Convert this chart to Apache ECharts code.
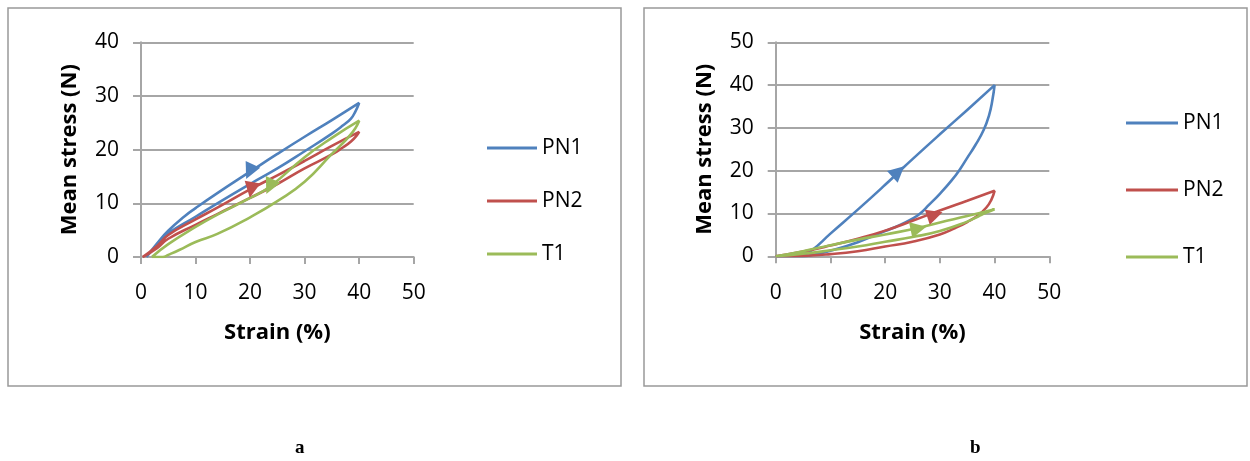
<!DOCTYPE html>
<html><head><meta charset="utf-8">
<script src="https://cdn.jsdelivr.net/npm/echarts@6/dist/echarts.min.js"></script>
<style>html,body{margin:0;padding:0;background:#fff}#c{width:1250px;height:461px}</style>
</head><body><div id="c"></div>
<script>
const seriesNames = ['PN1', 'PN2', 'T1'];
const colors = ['#4F81BD', '#C0504D', '#9BBB59'];
const xAxisName = 'Strain (%)';
const yAxisName = 'Mean stress (N)';
const panelLabels = ['a', 'b'];

// Panel a: loops [strain %, stress N]
const aPN1 = [[1,0],[3,2.6],[5,4.9],[8,7.6],[10,9.1],[14,11.9],[20,15.9],[25,19.2],[30,22.4],[35,25.5],[40,28.7],
  [39.3,27.1],[38.5,25.8],[37,24.5],[35,23],[30,19.7],[25,16.5],[20,13.6],[14,10],[10,7.5],[5,4.4],[3,2.4],[1,0]];
const aPN2 = [[0.3,0],[3,2.1],[5,4.1],[10,7.0],[14,9.2],[20,12.6],[25,15.2],[30,17.9],[35,20.7],[40,23.3],
  [39.6,22.7],[38.5,21.5],[37,20.4],[35,19.1],[30,16.5],[25,13.6],[20,11.0],[14,8.0],[10,6.0],[5,3.4],[3,1.7],[0.3,0]];
const aT1 = [[2,0],[5,2.4],[10,5.6],[14,7.9],[20,11.0],[23.6,13.1],[30,18.6],[35,22.2],[40,25.4],
  [39.3,24],[38,22.3],[36.5,20.7],[35,19.2],[30,14.0],[25,10.4],[20,7.4],[14,4.3],[10,2.8],[7,1.3],[5,0.4],[4,0],[2,0]];

// Panel b
const bPN1 = [[0,0],[3,0.2],[5,0.5],[6.5,1.3],[10,5.3],[15,10.9],[20,16.7],[22.4,19.6],[25,22.7],[30,28.5],[35,34.2],[40,40],
  [39.6,36.5],[39,33],[38,29.5],[36.5,26],[35,23],[33.5,20],[32,17.5],[30,14.6],[28,12],[26.4,10],[25,8.8],[22,6.9],[20,5.9],[15,3.3],[10,1.3],[7,0.4],[5,0.05],[0,0]];
const bPN2 = [[0,0],[5,1.1],[10,2.5],[15,4.1],[20,6.0],[25,8.3],[30,10.7],[35,13.0],[40,15.3],
  [39.4,13.2],[38.5,11.4],[37,9.6],[35,8.0],[32.8,6.6],[30,5.1],[25,3.4],[20,2.3],[15,1.2],[10,0.5],[5,0.1],[0,0]];
const bT1 = [[0,0],[5,1.2],[10,2.6],[15,3.9],[20,5.1],[26,6.6],[30,7.9],[35,9.4],[40,11.0],
  [38.5,10.2],[37,9.3],[35,8.1],[30,5.9],[25,4.5],[20,3.4],[15,2.3],[10,1.4],[5,0.6],[0,0]];

// Direction arrows on the loops
const arrowsA = [[19.9,15.9],[20.2,12.5],[23.6,13.1]];
const arrowRotA = [155,170,155];
const arrowsB = [[22.4,19.8],[29.1,9.7],[26.1,6.5]];
const arrowRotB = [-48,-72,-78];

const xMin = 0, xMax = 50, xStep = 10;
const yMaxA = 40, yMaxB = 50, yStep = 10;

const tickFont = {fontFamily: 'Open Sans', fontSize: 21, color: '#000'};
const gridCol = '#a6a6a6';

function xAx(idx){
  return {gridIndex: idx, type: 'value', min: xMin, max: xMax, interval: xStep,
    name: xAxisName, nameLocation: 'middle', nameGap: 65,
    nameTextStyle: {fontFamily: 'Open Sans', fontWeight: 'bold', fontSize: 22, color: '#000'},
    axisLine: {show: true, lineStyle: {color: gridCol, width: 2}},
    axisTick: {show: true, length: 7, lineStyle: {color: gridCol, width: 2}},
    axisLabel: Object.assign({margin: 26}, tickFont),
    splitLine: {show: false}};
}
function yAx(idx, max){
  return {gridIndex: idx, type: 'value', min: 0, max: max, interval: yStep,
    name: yAxisName, nameLocation: 'middle', nameGap: 60,
    nameTextStyle: {fontFamily: 'Open Sans', fontWeight: 'bold', fontSize: 22, color: '#000'},
    axisLine: {show: true, lineStyle: {color: gridCol, width: 2}},
    axisTick: {show: true, length: 8, lineStyle: {color: gridCol, width: 2}},
    axisLabel: Object.assign({margin: 22}, tickFont),
    splitLine: {show: true, lineStyle: {color: gridCol, width: 2}}};
}
function lineSeries(name, data, idx, ci){
  return {name: name, type: 'line', xAxisIndex: idx, yAxisIndex: idx, data: data,
    smooth: 0.5, showSymbol: false, symbol: 'none', lineStyle: {color: colors[ci], width: 2.6},
    itemStyle: {color: colors[ci]}, animation: false};
}
function arrowSeries(pts, rots, idx){
  return {name: 'dir' + idx, type: 'scatter', xAxisIndex: idx, yAxisIndex: idx, symbol: 'triangle', symbolSize: 16,
    data: pts.map((p, i) => ({value: p, symbolRotate: rots[i], itemStyle: {color: colors[i], opacity: 1}})),
    z: 5, animation: false};
}

const chart = echarts.init(document.getElementById('c'));
chart.setOption({
  backgroundColor: '#fff',
  animation: false,
  grid: [
    {left: 141, top: 42.3, width: 272.7, height: 214.7},
    {left: 775.7, top: 42.3, width: 273.6, height: 214}
  ],
  xAxis: [xAx(0), xAx(1)],
  yAxis: [yAx(0, yMaxA), yAx(1, yMaxB)],
  legend: [
    {data: seriesNames, orient: 'vertical', left: 482, top: 131, itemWidth: 50, itemHeight: 3, itemGap: 29, icon: 'rect',
      textStyle: {fontFamily: 'Open Sans', fontSize: 21, color: '#000', lineHeight: 24}, selectedMode: false},
    {data: seriesNames, orient: 'vertical', left: 1121, top: 106, itemWidth: 52, itemHeight: 3, itemGap: 43, icon: 'rect',
      textStyle: {fontFamily: 'Open Sans', fontSize: 21, color: '#000', lineHeight: 24}, selectedMode: false}
  ],
  graphic: [
    {type: 'rect', shape: {x: 8, y: 8, width: 613, height: 378}, style: {fill: 'none', stroke: '#999', lineWidth: 1.5}, silent: true},
    {type: 'rect', shape: {x: 644, y: 8, width: 603, height: 378}, style: {fill: 'none', stroke: '#999', lineWidth: 1.5}, silent: true},
    {type: 'text', left: 295, top: 439, style: {text: panelLabels[0], font: 'bold 19px "Liberation Serif"', fill: '#000'}},
    {type: 'text', left: 970, top: 439, style: {text: panelLabels[1], font: 'bold 19px "Liberation Serif"', fill: '#000'}}
  ],
  series: [
    lineSeries(seriesNames[0], aPN1, 0, 0),
    lineSeries(seriesNames[1], aPN2, 0, 1),
    lineSeries(seriesNames[2], aT1, 0, 2),
    lineSeries(seriesNames[0], bPN1, 1, 0),
    lineSeries(seriesNames[1], bPN2, 1, 1),
    lineSeries(seriesNames[2], bT1, 1, 2),
    arrowSeries(arrowsA, arrowRotA, 0),
    arrowSeries(arrowsB, arrowRotB, 1)
  ]
});
</script></body></html>
